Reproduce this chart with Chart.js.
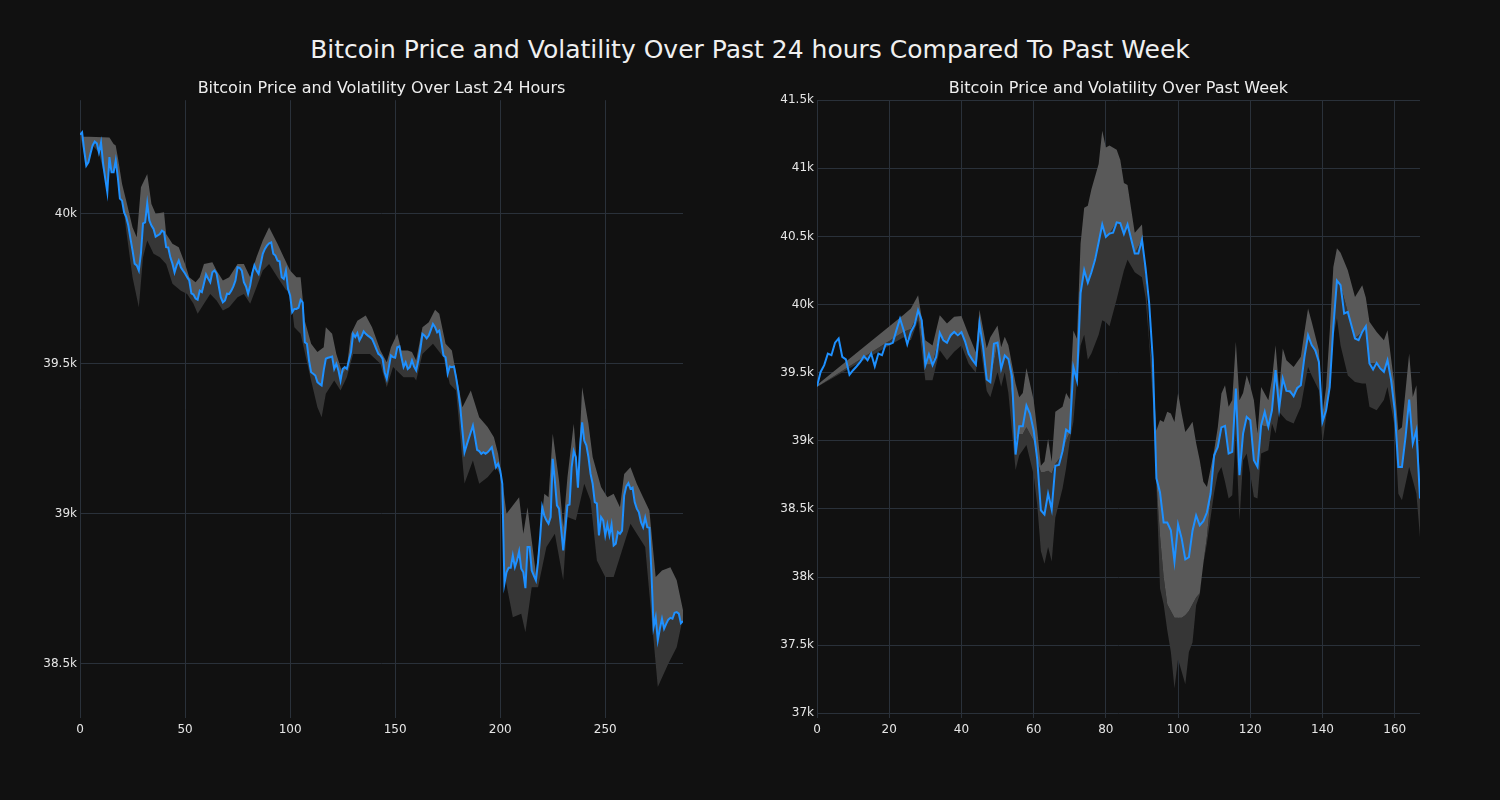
<!DOCTYPE html>
<html lang="en">
<head>
  <meta charset="UTF-8">
  <title>Bitcoin Price and Volatility</title>
  <script src="https://cdn.jsdelivr.net/npm/chart.js"></script>
  <style>
    body {
      margin: 0;
      background-color: #111111;
      font-family: "DejaVu Sans", sans-serif;
    }
    #wrap {
      position: relative;
      width: 1500px;
      height: 800px;
    }
    h1 {
      position: absolute;
      top: 35px;
      left: 0;
      width: 1500px;
      margin: 0;
      text-align: center;
      font-size: 25px;
      line-height: 30px;
      font-weight: normal;
      color: #f0f0f0;
    }
    canvas {
      position: absolute;
      top: 0;
    }
  </style>
</head>
<body>
<div id="wrap">
  <h1>Bitcoin Price and Volatility Over Past 24 hours Compared To Past Week</h1>
  <canvas id="dayChart" width="700" height="760" style="left:0px"></canvas>
  <canvas id="weekChart" width="700" height="760" style="left:750px"></canvas>
</div>

<script>
// last 24 hours, 5 minute steps
const dayPrice = [
  40263, 40271, 40210, 40160, 40171, 40200, 40227, 40240, 40234, 40204,
  40237, 40166, 40117, 40071, 40188, 40138, 40138, 40177, 40121, 40050,
  40043, 40004, 39988, 39960, 39917, 39877, 39833, 39827, 39810, 39867,
  39967, 39971, 40034, 39977, 39960, 39949, 39923, 39927, 39932, 39943,
  39938, 39888, 39887, 39854, 39833, 39804, 39827, 39843, 39821, 39810,
  39800, 39788, 39777, 39734, 39730, 39717, 39713, 39743, 39738, 39767,
  39797, 39783, 39771, 39804, 39810, 39800, 39760, 39721, 39704, 39710,
  39733, 39732, 39743, 39757, 39777, 39821, 39819, 39810, 39771, 39757,
  39732, 39760, 39801, 39827, 39810, 39799, 39832, 39866, 39882, 39893,
  39901, 39904, 39866, 39860, 39843, 39841, 39788, 39782, 39810, 39749,
  39727, 39671, 39682, 39682, 39686, 39712, 39704, 39571, 39566, 39510,
  39471, 39466, 39460, 39438, 39432, 39427, 39477, 39516, 39519, 39521,
  39523, 39482, 39499, 39477, 39443, 39482, 39488, 39482, 39510, 39538,
  39599, 39588, 39601, 39577, 39590, 39607, 39599, 39593, 39588, 39582,
  39566, 39549, 39532, 39527, 39516, 39471, 39449, 39488, 39527, 39521,
  39519, 39554, 39557, 39521, 39488, 39504, 39482, 39488, 39510, 39490,
  39477, 39510, 39549, 39599, 39593, 39584, 39593, 39612, 39632, 39621,
  39604, 39610, 39571, 39527, 39521, 39466, 39490, 39488, 39490, 39454,
  39410, 39354, 39277, 39204, 39227, 39249, 39271, 39293, 39254, 39212,
  39208, 39199, 39204, 39199, 39204, 39212, 39221, 39188, 39154, 39166,
  39143, 39099, 38766, 38804, 38819, 38819, 38860, 38821, 38843, 38874,
  38816, 38804, 38751, 38888, 38888, 38810, 38793, 38777, 38838, 38921,
  39021, 38993, 38977, 38966, 38988, 39182, 39110, 39027, 39016, 38949,
  38877, 38949, 39027, 39030, 39154, 39208, 39188, 39086, 39221, 39304,
  39243, 39227, 39188, 39132, 39099, 39038, 39034, 38927, 38988, 38977,
  38927, 38963, 38927, 38963, 38893, 38899, 38938, 38932, 38943, 39060,
  39090, 39101, 39082, 39086, 39038, 39016, 39004, 38971, 38954, 38986,
  38954, 38952, 38799, 38621, 38654, 38577, 38616, 38649, 38616, 38632,
  38646, 38652, 38649, 38669, 38671, 38666, 38634, 38641
];

// volatility band edges (read at these steps)
const dayUpperAt = [1, 14, 16, 17, 18, 20, 22, 25, 27, 29, 32, 34, 36, 40, 41, 44, 47, 50, 52, 55,
  57, 59, 63, 65, 68, 71, 75, 78, 81, 84, 87, 90, 94, 97, 100, 103, 105, 107, 110, 113,
  116, 117, 120, 122, 125, 127, 129, 132, 136, 139, 143, 146, 148, 151, 153, 156, 158, 160, 163, 166,
  169, 171, 174, 177, 179, 182, 186, 190, 194, 197, 199, 201, 203, 209, 211, 213, 217, 221, 223, 225,
  228, 230, 232, 235, 237, 239, 242, 244, 248, 251, 254, 257, 259, 262, 265, 268, 271, 274, 277, 281,
  284, 287];
const dayUpper = [40257, 40254, 40232, 40227, 40188, 40099, 40043, 39954, 39921, 40088, 40132, 40032, 39999, 40004, 39932, 39899, 39888, 39832, 39788, 39771,
  39788, 39832, 39838, 39810, 39777, 39788, 39832, 39832, 39788, 39854, 39910, 39954, 39899, 39854, 39810, 39788, 39788, 39643, 39566, 39538,
  39554, 39621, 39599, 39532, 39466, 39488, 39599, 39643, 39660, 39621, 39543, 39504, 39554, 39599, 39543, 39543, 39538, 39510, 39621, 39638,
  39679, 39666, 39566, 39543, 39466, 39354, 39410, 39321, 39288, 39254, 39199, 39110, 38999, 39054, 38932, 39021, 38799, 39066, 39054, 39266,
  39110, 38954, 39121, 39299, 39121, 39421, 39299, 39188, 39088, 39054, 39066, 39021, 39132, 39154, 39099, 39054, 39010, 38788, 38810, 38821,
  38777, 38677];
const dayLowerAt = [0, 3, 6, 9, 12, 14, 17, 19, 22, 25, 28, 30, 32, 35, 38, 41, 44, 48, 51, 54,
  56, 59, 62, 65, 68, 71, 75, 78, 81, 84, 87, 90, 94, 98, 100, 102, 105, 110, 113, 115,
  117, 121, 124, 127, 130, 134, 138, 143, 146, 149, 154, 159, 160, 163, 168, 173, 176, 179, 183, 187,
  190, 194, 198, 200, 202, 206, 210, 212, 215, 218, 222, 226, 230, 232, 236, 240, 243, 246, 250, 254,
  258, 262, 265, 269, 273, 275, 280, 284, 287];
const dayLower = [40263, 40160, 40227, 40204, 40117, 40140, 40170, 40121, 39943, 39788, 39688, 39854, 39910, 39866, 39854, 39832, 39766, 39743, 39732, 39699,
  39666, 39699, 39732, 39710, 39677, 39688, 39721, 39732, 39699, 39754, 39810, 39832, 39788, 39745, 39740, 39621, 39599, 39443, 39354, 39321,
  39399, 39443, 39410, 39454, 39532, 39532, 39532, 39499, 39421, 39488, 39454, 39454, 39443, 39532, 39566, 39521, 39432, 39410, 39100, 39177,
  39099, 39121, 39154, 39130, 38799, 38654, 38666, 38604, 38754, 38754, 38888, 38932, 38777, 38988, 38977, 39099, 39043, 38843, 38788, 38788,
  38877, 38966, 38932, 38888, 38577, 38421, 38499, 38554, 38654];

// past week, hourly
const weekPrice = [
  39400, 39505, 39555, 39640, 39628, 39720, 39751, 39616, 39597, 39485,
  39518, 39547, 39579, 39621, 39591, 39640, 39547, 39640, 39628, 39709,
  39709, 39719, 39812, 39897, 39812, 39709, 39799, 39848, 39958, 39885,
  39555, 39635, 39555, 39616, 39792, 39738, 39719, 39775, 39799, 39775,
  39797, 39730, 39638, 39596, 39560, 39862, 39688, 39450, 39430, 39712,
  39721, 39528, 39626, 39601, 39473, 38899, 39107, 39107, 39259, 39198,
  39076, 38862, 38490, 38459, 38612, 38496, 38817, 38823, 38923, 39082,
  39061, 39541, 39442, 40084, 40252, 40160, 40237, 40328, 40456, 40588,
  40496, 40521, 40527, 40603, 40597, 40517, 40588, 40481, 40374, 40374,
  40475, 40267, 40007, 39595, 38725, 38620, 38400, 38400, 38343, 38114,
  38385, 38282, 38129, 38145, 38340, 38452, 38380, 38410, 38475, 38613,
  38894, 38955, 39098, 39109, 38906, 38918, 39383, 38747, 39053, 39175,
  39151, 38857, 38808, 39114, 39212, 39102, 39224, 39518, 39237, 39457,
  39366, 39364, 39327, 39388, 39408, 39616, 39775, 39702, 39665, 39579,
  39139, 39224, 39396, 39836, 40176, 40142, 39934, 39946, 39848, 39751,
  39738, 39799, 39841, 39567, 39523, 39572, 39531, 39506, 39591, 39445,
  39224, 38808, 38808, 39029, 39303, 38980, 39077, 38576
];

const weekBandAt = [0, 24, 26, 28, 30, 32, 34, 36, 38, 40, 42, 44, 45, 47, 48, 50, 51, 52, 53, 55,
  56, 57, 58, 60, 61, 62, 63, 64, 65, 66, 68, 69, 70, 71, 72, 73, 74, 75, 76, 78,
  79, 80, 81, 83, 84, 85, 86, 88, 90, 91, 92, 93, 94, 95, 96, 97, 98, 99, 100, 101,
  102, 103, 104, 105, 106, 107, 108, 110, 111, 112, 113, 114, 115, 116, 117, 118, 119, 120, 121, 122,
  123, 125, 126, 127, 128, 129, 130, 132, 134, 135, 136, 137, 139, 140, 141, 142, 143, 144, 145, 147,
  149, 151, 152, 153, 155, 157, 158, 160, 161, 162, 164, 165, 166, 167];
const weekUpper = [39410, 39925, 39971, 40069, 39738, 39700, 39922, 39861, 39910, 39916, 39778, 39650, 39962, 39680, 39760, 39846, 39687, 39763, 39702, 39420,
  39320, 39351, 39534, 39300, 39076, 38816, 38847, 39015, 38847, 39213, 39250, 39351, 39305, 39809, 39748, 40450, 40710, 40725, 40847, 41031,
  41275, 41153, 41168, 41137, 41061, 40893, 40878, 40527, 40588, 40206, 39748, 39500, 39076, 39152, 39137, 39213, 39200, 39137, 39351, 39198,
  39065, 39100, 39139, 38984, 38857, 38700, 38661, 38931, 39100, 39347, 39408, 39249, 39300, 39726, 39298, 39350, 39481, 39400, 39298, 39053,
  39395, 39298, 39450, 39701, 39371, 39677, 39591, 39542, 39616, 39800, 39971, 39873, 39665, 39200, 39395, 39800, 40276, 40413, 40380, 40252,
  40056, 40142, 40050, 39873, 39799, 39738, 39812, 39395, 39077, 39100, 39640, 39322, 39408, 38637];
const weekMid = [39395, 39800, 39820, 39930, 39560, 39560, 39780, 39720, 39790, 39790, 39640, 39560, 39850, 39450, 39430, 39720, 39530, 39620, 39600, 39000,
  39050, 39050, 39100, 39000, 38850, 38770, 38770, 38780, 38760, 38830, 38900, 39000, 39060, 39500, 39450, 40080, 40250, 40160, 40237, 40456,
  40588, 40496, 40521, 40603, 40597, 40517, 40588, 40374, 40475, 40150, 39750, 39450, 38700, 38300, 38000, 37800, 37750, 37700, 37700, 37700,
  37720, 37750, 37800, 37850, 37880, 38100, 38300, 38850, 38950, 39098, 39100, 38906, 38918, 39383, 38747, 39053, 39175, 39151, 38857, 38808,
  39114, 39102, 39224, 39518, 39237, 39457, 39366, 39327, 39408, 39616, 39775, 39702, 39579, 39139, 39224, 39396, 39836, 40174, 40142, 39946,
  39751, 39799, 39841, 39567, 39572, 39506, 39591, 39224, 38808, 38808, 39303, 38980, 39077, 38576];
const weekLower = [39395, 39760, 39738, 39885, 39444, 39444, 39665, 39591, 39653, 39700, 39565, 39500, 39738, 39366, 39320, 39504, 39397, 39504, 39351, 38786,
  38893, 38930, 38969, 38750, 38526, 38190, 38098, 38220, 38113, 38435, 38650, 38801, 39000, 39137, 39450, 39700, 39778, 39595, 39641, 39778,
  39885, 39870, 39840, 40038, 40145, 40250, 40328, 40237, 40200, 40050, 39717, 39300, 38679, 37916, 37800, 37610, 37450, 37183, 37397, 37305,
  37213, 37450, 37519, 37793, 37870, 38100, 38250, 38620, 38759, 38808, 38700, 38576, 38600, 39050, 38417, 38857, 38906, 38750, 38588, 38576,
  38906, 38931, 39126, 39053, 39212, 39180, 39151, 39126, 39249, 39400, 39542, 39480, 39371, 38980, 39175, 39380, 39763, 39900, 39700, 39480,
  39432, 39420, 39420, 39249, 39224, 39300, 39395, 39102, 38612, 38563, 38808, 38710, 38612, 38290];

const dayXTicks = [0, 50, 100, 150, 200, 250];
const dayYTicks = [38500, 39000, 39500, 40000];
const weekXTicks = [0, 20, 40, 60, 80, 100, 120, 140, 160];
const weekYTicks = [37000, 37500, 38000, 38500, 39000, 39500, 40000, 40500, 41000, 41500];

Chart.defaults.font.family = '"DejaVu Sans", sans-serif';
Chart.defaults.color = '#e6e6e6';

const lightBand = '#595959';
const darkBand = '#363636';
const gridColor = '#2a313a';

const pts = (xs, ys) => ys.map((y, k) => ({ x: xs[k], y: y }));
const seq = arr => arr.map((y, i) => ({ x: i, y: y }));
const band = (data, fill, color) => ({
  data: data,
  borderWidth: 0,
  pointRadius: 0,
  fill: fill,
  backgroundColor: color,
  order: 1
});

function makeChart(id, title, datasets, xMax, xTicks, yMin, yMax, yTicks, yWidth, padRight) {
  return new Chart(document.getElementById(id), {
    type: 'line',
    data: { datasets: datasets },
    options: {
      responsive: false,
      animation: false,
      devicePixelRatio: 1,
      layout: { padding: { top: 79, right: padRight, bottom: 12, left: 0 } },
      plugins: {
        legend: { display: false },
        tooltip: { enabled: false },
        title: {
          display: true,
          text: title,
          color: '#eeeeee',
          fullSize: false,
          font: { size: 16, weight: 'normal' },
          padding: { top: 0, bottom: 2 }
        }
      },
      scales: {
        x: {
          type: 'linear',
          min: 0,
          max: xMax,
          afterBuildTicks: s => { s.ticks = xTicks.map(v => ({ value: v })); },
          afterFit: s => { s.height = 30; },
          ticks: { color: '#e6e6e6', font: { size: 12 }, padding: 5, maxRotation: 0 },
          grid: { color: gridColor, drawTicks: false },
          border: { display: false }
        },
        y: {
          min: yMin,
          max: yMax,
          afterBuildTicks: s => { s.ticks = yTicks.map(v => ({ value: v })); },
          afterFit: s => { s.width = yWidth; },
          ticks: {
            color: '#e6e6e6',
            font: { size: 12 },
            padding: 3,
            callback: v => (v / 1000) + 'k'
          },
          grid: { color: gridColor, drawTicks: false },
          border: { display: false }
        }
      }
    }
  });
}

makeChart('dayChart', 'Bitcoin Price and Volatility Over Last 24 Hours', [
  { data: seq(dayPrice), borderColor: '#1e90ff', borderWidth: 2, pointRadius: 0, fill: false, order: 0 },
  band(pts(dayUpperAt, dayUpper), 0, lightBand),
  band(pts(dayLowerAt, dayLower), 0, darkBand)
], dayPrice.length - 1, dayXTicks, 38318, 40378, dayYTicks, 80, 17);

makeChart('weekChart', 'Bitcoin Price and Volatility Over Past Week', [
  { data: seq(weekPrice), borderColor: '#1e90ff', borderWidth: 2, pointRadius: 0, fill: false, order: 0 },
  band(pts(weekBandAt, weekUpper), '+1', lightBand),
  band(pts(weekBandAt, weekMid), '+1', darkBand),
  band(pts(weekBandAt, weekLower), false, darkBand)
], weekPrice.length - 1, weekXTicks, 36965, 41500, weekYTicks, 67, 30);
</script>
</body>
</html>
